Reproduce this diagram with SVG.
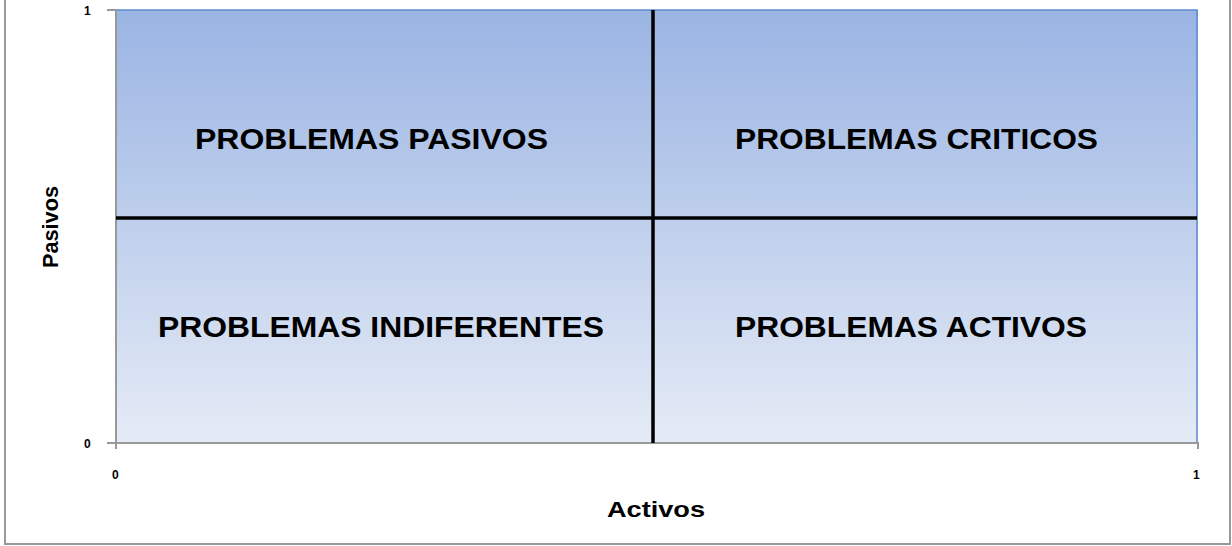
<svg xmlns="http://www.w3.org/2000/svg" width="1232" height="546" viewBox="0 0 1232 546">
<defs>
<linearGradient id="bg" x1="0" y1="0" x2="0" y2="1">
<stop offset="0" stop-color="#9ab4e3"/>
<stop offset="1" stop-color="#e5ebf6"/>
</linearGradient>
<style>
.q{font-family:"Liberation Sans",Arial,sans-serif;font-weight:bold;font-size:29px;fill:#000}
.t{font-family:"Liberation Sans",Arial,sans-serif;font-weight:bold;font-size:12px;fill:#000}
.a{font-family:"Liberation Sans",Arial,sans-serif;font-weight:bold;font-size:22px;fill:#000}
.ax{stroke:#999;stroke-width:2;fill:none}
.div{stroke:#000;stroke-width:3.5;fill:none}
</style>
</defs>
<rect x="0" y="0" width="1232" height="546" fill="#fff"/>
<path d="M5 0 V544 H1230 V0" fill="none" stroke="#999" stroke-width="2"/>
<g id="plot">
<rect x="116" y="10" width="1082" height="433" fill="url(#bg)"/>
<path d="M116 10 H1197 V443" fill="none" stroke="#5b8bd0" stroke-width="1.5"/>
</g>
<g id="axes">
<path class="ax" d="M107 10 H116 V449"/>
<path class="ax" d="M107 443 H1198 V449"/>
<text class="t" x="84" y="15">1</text>
<text class="t" x="84" y="448">0</text>
<text class="t" x="112" y="479">0</text>
<text class="t" x="1193" y="479">1</text>
<text class="a" x="607" y="517" textLength="98" lengthAdjust="spacingAndGlyphs">Activos</text>
<text class="a" transform="translate(58,268) rotate(-90)" textLength="82" lengthAdjust="spacingAndGlyphs">Pasivos</text>
</g>
<g id="connectors">
<line class="div" x1="653" y1="10" x2="653" y2="443"/>
<line class="div" x1="116" y1="218" x2="1197" y2="218"/>
</g>
<g id="q1"><text class="q" x="195" y="149" textLength="353" lengthAdjust="spacingAndGlyphs">PROBLEMAS PASIVOS</text></g>
<g id="q2"><text class="q" x="735" y="149" textLength="363" lengthAdjust="spacingAndGlyphs">PROBLEMAS CRITICOS</text></g>
<g id="q3"><text class="q" x="158" y="337" textLength="446" lengthAdjust="spacingAndGlyphs">PROBLEMAS INDIFERENTES</text></g>
<g id="q4"><text class="q" x="735" y="337" textLength="352" lengthAdjust="spacingAndGlyphs">PROBLEMAS ACTIVOS</text></g>
</svg>
